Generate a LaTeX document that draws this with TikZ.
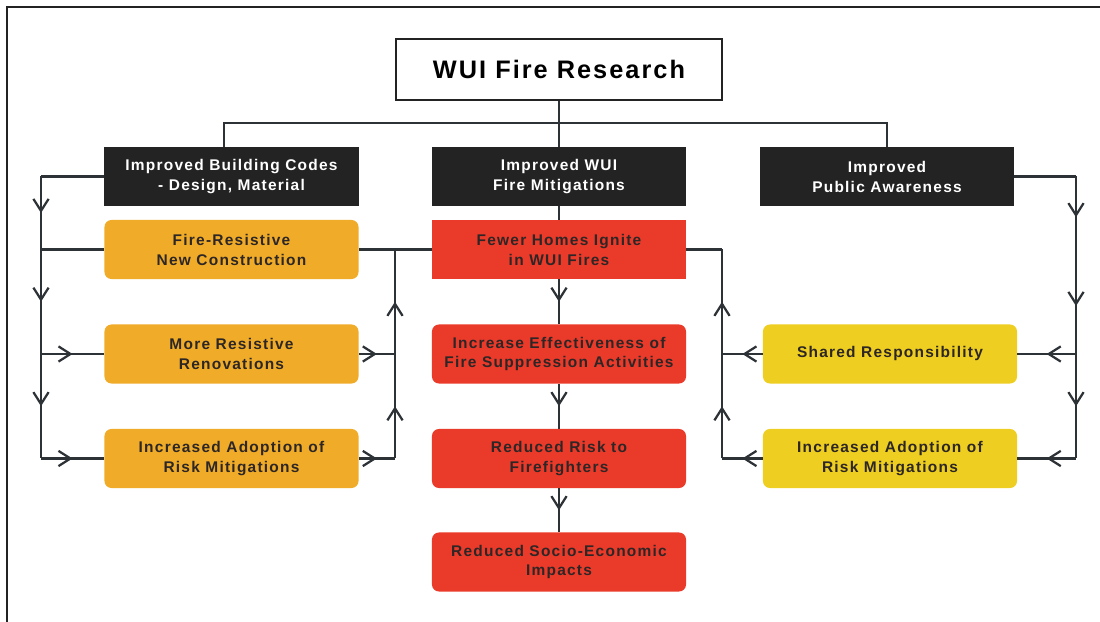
\documentclass[tikz,border=0pt]{standalone}
\usepackage{fontspec}
\setmainfont{Liberation Sans}[LetterSpace=8]
\usetikzlibrary{arrows.meta,decorations.markings}
\definecolor{darkbox}{RGB}{35,35,35}
\definecolor{orangebox}{RGB}{240,172,40}
\definecolor{redbox}{RGB}{234,58,42}
\definecolor{yellowbox}{RGB}{238,206,32}
\definecolor{inkc}{RGB}{45,38,38}
\definecolor{linec}{RGB}{45,50,55}

\begin{document}
\begin{tikzpicture}[x=0.025cm, y=-0.025cm,
        box/.style={rectangle, minimum width=6.35cm, minimum height=1.475cm, inner sep=0pt, align=center, font=\fontsize{11}{14.2}\selectfont\bfseries},
        head/.style={box, fill=darkbox, text=white},
        outcome/.style={box, rounded corners=5pt, text=inkc},
        flow/.style={draw=linec, line width=1.6pt},
        midarrow/.style={flow, postaction={decorate}, decoration={markings, mark=at position 0.5 with {\arrow{Straight Barb[length=3mm, width=3.8mm]}}}}
    ]
        \useasboundingbox (0,0) rectangle (1100,622);
        \draw[line width=2pt, darkbox] (7,622) -- (7,7) -- (1100,7);

        \node[box, draw=darkbox, line width=1.4pt, minimum width=8.15cm, minimum height=1.525cm, font=\fontsize{18}{21}\selectfont\bfseries] (wui) at (559,69.5) {WUI Fire Research};

        \node[head] (codes) at (231.5,176.5) {Improved Building Codes\\- Design, Material};
        \node[head] (mitig) at (559,176.5) {Improved WUI\\Fire Mitigations};
        \node[head] (aware) at (887,176.5) {Improved\\Public Awareness};

        \node[outcome, fill=orangebox] (newcon) at (231.5,249.5) {Fire-Resistive\\New Construction};
        \node[outcome, fill=orangebox] (renov) at (231.5,354) {More Resistive\\Renovations};
        \node[outcome, fill=orangebox] (adoptl) at (231.5,458.5) {Increased Adoption of\\Risk Mitigations};

        \node[outcome, fill=redbox, rounded corners=0pt] (fewer) at (559,249.5) {Fewer Homes Ignite\\in WUI Fires};
        \node[outcome, fill=redbox] (suppr) at (559,354) {Increase Effectiveness of\\Fire Suppression Activities};
        \node[outcome, fill=redbox] (riskff) at (559,458.5) {Reduced Risk to\\Firefighters};
        \node[outcome, fill=redbox] (socio) at (559,562) {Reduced Socio-Economic\\Impacts};

        \node[outcome, fill=yellowbox] (shared) at (890,354) {Shared Responsibility};
        \node[outcome, fill=yellowbox] (adoptr) at (890,458.5) {Increased Adoption of\\Risk Mitigations};

        \coordinate (busl) at (224,123);
        \coordinate (busr) at (887,123);
        \coordinate (la) at (41,176.5);
        \coordinate (lb) at (41,249.5);
        \coordinate (lc) at (41,354);
        \coordinate (ld) at (41,458.5);
        \coordinate (mb) at (395,249.5);
        \coordinate (mc) at (395,354);
        \coordinate (md) at (395,458.5);
        \coordinate (na) at (722,249.5);
        \coordinate (nc) at (722,354);
        \coordinate (nd) at (722,458.5);
        \coordinate (ra) at (1076,176.5);
        \coordinate (rb) at (1076,258);
        \coordinate (rc) at (1076,354);
        \coordinate (rd) at (1076,458.5);

        \draw[flow] (wui) -- (mitig);
        \draw[flow] (codes.north -| busl) -- (busl) -- (busr) -- (aware.north);

        \draw[flow] (codes.west) -- (la);
        \draw[midarrow] (la) -- (lb);
        \draw[midarrow] (lb) -- (lc);
        \draw[midarrow] (lc) -- (ld);
        \draw[flow] (lb) -- (newcon.west);
        \draw[midarrow] (lc) -- (renov.west);
        \draw[midarrow] (ld) -- (adoptl.west);
        \draw[flow] (newcon.east) -- (fewer.west);
        \draw[midarrow] (renov.east) -- (mc);
        \draw[midarrow] (adoptl.east) -- (md);
        \draw[midarrow] (md) -- (mc);
        \draw[midarrow] (mc) -- (mb);

        \draw[flow] (mitig) -- (fewer);
        \draw[midarrow] (fewer) -- (suppr);
        \draw[midarrow] (suppr) -- (riskff);
        \draw[midarrow] (riskff) -- (socio);

        \draw[flow] (aware.east) -- (ra);
        \draw[midarrow] (ra) -- (rb);
        \draw[midarrow] (rb) -- (rc);
        \draw[midarrow] (rc) -- (rd);
        \draw[midarrow] (rc) -- (shared.east);
        \draw[midarrow] (rd) -- (adoptr.east);
        \draw[midarrow] (shared.west) -- (nc);
        \draw[midarrow] (adoptr.west) -- (nd);
        \draw[midarrow] (nd) -- (nc);
        \draw[midarrow] (nc) -- (na);
        \draw[flow] (na) -- (fewer.east);
    \end{tikzpicture}
\end{document}
